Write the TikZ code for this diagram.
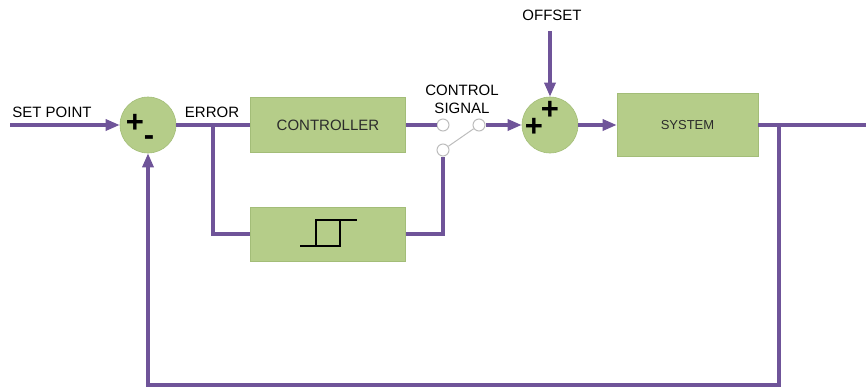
\documentclass[tikz,border=0pt]{standalone}
\usepackage{fontspec}
\setmainfont{Liberation Sans}
\usetikzlibrary{arrows.meta}

\definecolor{wirecol}{HTML}{6F5499}
\definecolor{blockfill}{HTML}{B5CD89}
\definecolor{blockedge}{HTML}{A3BD78}
\definecolor{blocktext}{HTML}{2B2B2B}
\definecolor{contactcol}{HTML}{BDBDBD}

\begin{document}
\begin{tikzpicture}[x=1pt,y=-1pt,
  wire/.style={draw=wirecol,line width=3.2pt},
  arrowwire/.style={wire,-{Triangle[length=14pt,width=11pt]}},
  block/.style={draw=blockedge,line width=0.6pt,fill=blockfill,
    minimum width=155pt,minimum height=55pt,inner sep=0pt,text=blocktext},
  summer/.style={circle,draw=blockedge,line width=0.6pt,fill=blockfill,
    minimum size=56pt,inner sep=0pt},
  contactpt/.style={circle,draw=contactcol,line width=1pt,fill=white,
    minimum size=12pt,inner sep=0pt},
  lbl/.style={font=\fontsize{15}{18}\selectfont,inner sep=0pt,align=center},
  sign/.style={font=\fontsize{31}{31}\selectfont\bfseries,inner sep=0pt},
  hystline/.style={draw=black,line width=2.2pt}
]
\useasboundingbox (0,0) rectangle (866,389);

% summing junctions and blocks
\node[summer] (s1) at (148,125) {};
\node[summer] (s2) at (550,125) {};
\node[block] (ctrl) at (328,125) {\fontsize{15}{17}\selectfont CONTROLLER};
\node[block,minimum height=54pt] (hyst) at (328,234) {};
\node[block,minimum width=141pt,minimum height=63pt] (sys) at (687.5,125)
  {\fontsize{13}{15}\selectfont SYSTEM};

% signs on the junctions
\node[sign] (s1p) at (135,123) {+};
\node[sign] (s1m) at (149,141) {-};
\node[sign] (s2a) at (534,127) {+};
\node[sign] (s2b) at (550,110) {+};

% switch contacts
\node[contactpt] (c1) at (443,125) {};
\node[contactpt] (c2) at (479,125) {};
\node[contactpt] (c3) at (443,150) {};

% labels
\node[lbl] (sp) at (52,112) {SET POINT};
\node[lbl] (err) at (212,112) {ERROR};
\node[lbl] (cs) at (462,99) {CONTROL\\SIGNAL};
\node[lbl] (off) at (552,15) {OFFSET};

% routing points
\coordinate (in) at (10,125);
\coordinate (b1) at (213,125);
\coordinate (offtop) at (550,31);
\coordinate (tap) at (779,125);
\coordinate (outend) at (866,125);
\coordinate (fb) at (148,385);

% connections
\draw[arrowwire] (in) -- (s1);
\draw[wire] (s1) -- (ctrl);
\draw[wire] (b1) |- (hyst.west);
\draw[wire] (ctrl) -- (c1);
\draw[wire] (hyst.east) -| (c3);
\draw[draw=contactcol,line width=1pt] (c3) -- (c2);
\draw[arrowwire] (c2) -- (s2);
\draw[arrowwire] (offtop) -- (s2);
\draw[arrowwire] (s2) -- (sys);
\draw[wire] (sys) -- (outend);
\draw[arrowwire] (tap) |- (fb) -- (s1);

% hysteresis symbol
\draw[hystline] ([shift={(-28,12)}]hyst.center) -- ([shift={(12,12)}]hyst.center)
  -- ([shift={(12,-14)}]hyst.center);
\draw[hystline] ([shift={(-12,12)}]hyst.center) -- ([shift={(-12,-14)}]hyst.center)
  -- ([shift={(29,-14)}]hyst.center);
\end{tikzpicture}
\end{document}
